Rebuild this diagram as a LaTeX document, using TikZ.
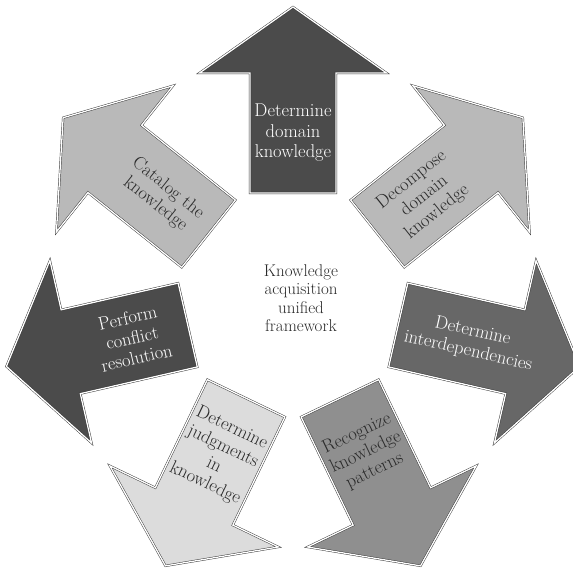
\documentclass[tikz,border=0pt]{standalone}
\usepackage{tikz}

\definecolor{kadark}{HTML}{4B4B4B}
\definecolor{kamid}{HTML}{676767}
\definecolor{kagray}{HTML}{8F8F8F}
\definecolor{kalight}{HTML}{B9B9B9}
\definecolor{kapale}{HTML}{DCDCDC}
\definecolor{katext}{HTML}{2A2A2A}

% one block arrow of the cycle, pointing outwards along angle #1
\newcommand\kaBlockArrow[2]{%
  \path[blockarrow, fill=#2, rotate=#1]
    (108,-43) -- (228,-43) -- (228,-93.5) -- (294,0) -- (228,93.5)
    -- (228,43) -- (108,43) -- cycle;}

\begin{document}
\begin{tikzpicture}[x=1pt,y=1pt,
  blockarrow/.style={draw=black!80, line width=0.45pt, double=white,
    double distance=1.3pt, line join=miter},
  lbl/.style={align=center, inner sep=0pt, text=katext,
    font=\fontsize{18.5}{20.5}\selectfont},
  lblw/.style={lbl, text=white},
  hubtext/.style={align=center, inner sep=0pt, text=katext,
    font=\fontsize{17}{18.5}\selectfont}]
\useasboundingbox (-293,-267) rectangle (280,301);

\kaBlockArrow{90}{kadark}
\kaBlockArrow{38.57}{kalight}
\kaBlockArrow{-12.86}{kamid}
\kaBlockArrow{-64.29}{kagray}
\kaBlockArrow{-115.71}{kapale}
\kaBlockArrow{-167.14}{kadark}
\kaBlockArrow{141.43}{kalight}

\node[lblw] (t1) at (90:168) {Determine\\domain\\knowledge};
\node[lbl, rotate=38.57] (t2) at (38.57:168) {Decompose\\domain\\knowledge};
\node[lblw, rotate=-12.86] (t3) at (-12.86:182) {Determine\\interdependencies};
\node[lbl, rotate=25.71] (t4) at (-64.29:168) {Recognize\\knowledge\\patterns};
\node[lbl, rotate=-25.71] (t5) at (-115.71:172) {Determine\\judgments\\in\\knowledge};
\node[lblw, rotate=12.86] (t6) at (-167.14:165) {Perform\\conflict\\resolution};
\node[lbl, rotate=-38.57] (t7) at (141.43:168) {Catalog the\\knowledge};

\node[hubtext] (hub) at (8,3) {Knowledge\\acquisition\\unified\\framework};
\end{tikzpicture}
\end{document}
